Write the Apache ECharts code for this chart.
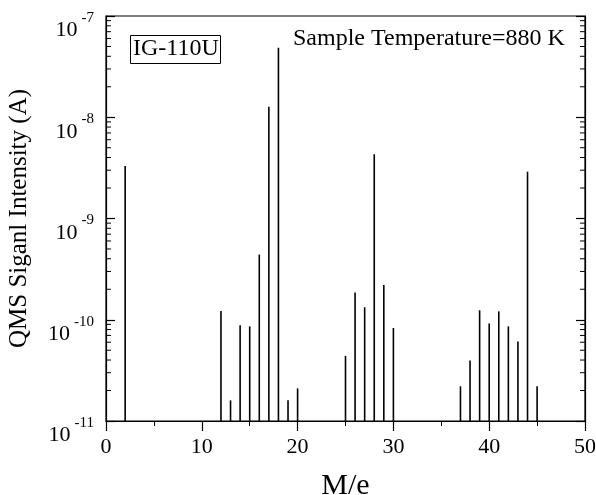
<!DOCTYPE html>
<html><head><meta charset="utf-8">
<script src="https://cdn.jsdelivr.net/npm/echarts@6/dist/echarts.min.js"></script>
<style>html,body{margin:0;padding:0;background:#fff}#c{width:596px;height:495px}</style>
</head><body><div id="c"></div>
<script>
// Data
var massNumbers = [2, 12, 13, 14, 15, 16, 17, 18, 19, 20, 25, 26, 27, 28, 29, 30, 37, 38, 39, 40, 41, 42, 43, 44, 45];
var intensities = [3.3e-9, 1.22e-10, 1.6e-11, 8.8e-11, 8.6e-11, 4.4e-10, 1.27e-8, 4.85e-8, 1.6e-11, 2.1e-11,
                   4.4e-11, 1.86e-10, 1.33e-10, 4.3e-9, 2.2e-10, 8.3e-11,
                   2.2e-11, 3.95e-11, 1.24e-10, 9.2e-11, 1.21e-10, 8.6e-11, 6.1e-11, 2.9e-9, 2.2e-11];
var xTicks = [0, 10, 20, 30, 40, 50];
var yMin = 1e-11, yMax = 1e-7;
var sampleLabel = 'IG-110U';
var tempLabel = 'Sample Temperature=880 K';
var xName = 'M/e';
var yName = 'QMS Siganl Intensity (A)';

var minorVals = [];
for (var e = -11; e < -7; e++) for (var m = 2; m <= 9; m++) minorVals.push(m * Math.pow(10, e));

var chart = echarts.init(document.getElementById('c'));
var font = 'Liberation Serif';
chart.setOption({
  animation: false,
  backgroundColor: '#fff',
  grid: {left: 106, right: 11, top: 16, bottom: 74, show: true, borderColor: '#000', borderWidth: 1.2,
         containLabel: false, outerBoundsMode: 'none'},
  xAxis: {
    type: 'value', min: xTicks[0], max: xTicks[xTicks.length - 1], interval: 10,
    name: xName, nameLocation: 'middle', nameGap: 50,
    nameTextStyle: {fontFamily: font, fontSize: 30, color: '#000'},
    axisLine: {lineStyle: {color: '#000', width: 1.2}},
    axisTick: {inside: false, length: 10, lineStyle: {color: '#000', width: 1.2}},
    minorTick: {show: true, splitNumber: 2, length: 5, lineStyle: {color: '#000', width: 1}},
    axisLabel: {fontFamily: font, fontSize: 22, color: '#000', margin: 15},
    splitLine: {show: false}
  },
  yAxis: [{
    type: 'log', logBase: 10, min: yMin, max: yMax,
    name: yName, nameLocation: 'middle', nameGap: 74,
    nameTextStyle: {fontFamily: font, fontSize: 25, color: '#000'},
    axisLine: {lineStyle: {color: '#000', width: 1.2}},
    axisTick: {inside: true, length: 9, lineStyle: {color: '#000', width: 1.2}},
    splitLine: {show: false},
    axisLabel: {
      margin: 12,
      formatter: function (v) { return '{e| }\n{b|10}{s|' + Math.round(Math.log10(v)) + '}'; },
      rich: {
        e: {fontSize: 10, lineHeight: 29},
        b: {fontFamily: font, fontSize: 22, color: '#000', verticalAlign: 'bottom', lineHeight: 22},
        s: {fontFamily: font, fontSize: 15, color: '#000', verticalAlign: 'bottom', lineHeight: 15, padding: [0, 0, 16, 4]}
      }
    }
  }, {
    type: 'log', logBase: 10, min: yMin, max: yMax, position: 'right',
    axisLine: {lineStyle: {color: '#000', width: 1.2}},
    axisTick: {inside: true, length: 9, lineStyle: {color: '#000', width: 1.2}},
    axisLabel: {show: false}, splitLine: {show: false}
  }],
  graphic: [
    {type: 'rect', left: 130, top: 35, shape: {width: 90, height: 28},
     style: {fill: '#fff', stroke: '#000', lineWidth: 1}},
    {type: 'text', left: 133, top: 37, style: {text: sampleLabel, font: '24px "Liberation Serif"', fill: '#000'}},
    {type: 'text', left: 293, top: 27, style: {text: tempLabel, font: '24px "Liberation Serif"', fill: '#000'}}
  ],
  series: [{
    type: 'custom',
    data: massNumbers.map(function (x, i) { return [x, intensities[i]]; }),
    renderItem: function (params, api) {
      var top = api.coord([api.value(0), api.value(1)]);
      var bot = api.coord([api.value(0), yMin]);
      return {type: 'line', shape: {x1: top[0], y1: top[1], x2: bot[0], y2: bot[1]},
              style: {stroke: '#000', lineWidth: 1.6}};
    }
  }, {
    type: 'custom', silent: true,
    data: minorVals.map(function (v) { return [0, v]; }),
    renderItem: function (params, api) {
      var l = api.coord([0, api.value(1)]);
      var r = api.coord([50, api.value(1)]);
      return {type: 'group', children: [
        {type: 'line', shape: {x1: l[0], y1: l[1], x2: l[0] + 5, y2: l[1]}, style: {stroke: '#000', lineWidth: 1}},
        {type: 'line', shape: {x1: r[0], y1: r[1], x2: r[0] - 5, y2: r[1]}, style: {stroke: '#000', lineWidth: 1}}
      ]};
    }
  }]
});
</script></body></html>
